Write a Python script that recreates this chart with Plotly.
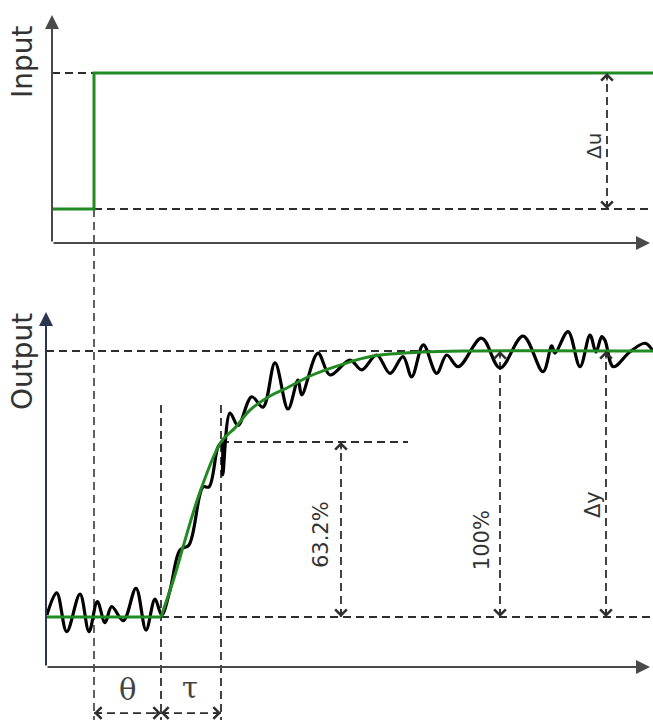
import plotly.graph_objects as go

# ---------------- data (time units, normalised signals) ----------------
# Input step: low level 0, high level 1, step at t_step
t_step = 2.0
theta = 3.35          # dead time
tau = 3.0             # time constant
ratio_632 = 0.658     # level of the 63.2 % mark as drawn

input_t = [-0.1, 2.0, 2.0, 29.95]
input_u = [0.0, 0.0, 1.0, 1.0]

# Model (green) output response
model_base_t = [-0.4, 5.35]
model_base_v = [0.0, 0.0]
model_rise_t = [5.35, 6.05, 6.45, 7.3, 8.35, 9.05, 9.8, 10.8, 11.65, 12.8,
                14.3, 15.95, 18.45, 20.8, 29.95]
model_rise_v = [0.0, 0.158, 0.263, 0.470, 0.658, 0.711, 0.778, 0.831, 0.861,
                0.906, 0.947, 0.981, 0.996, 1.0, 1.0]

# Measured (noisy, black) output
meas_t = [-0.35, 0.135, 0.635, 1.3, 1.75, 2.165, 2.55, 2.885, 3.465, 4.1,
          4.6, 5.05, 5.385, 5.8, 6.3, 6.75, 7.45, 7.75, 8.2, 8.385,
          8.435, 8.8, 9.2, 9.885, 10.45, 11.05, 11.7, 12.2, 12.385, 13.2,
          13.8, 14.8, 15.385, 16.135, 16.8, 17.45, 17.885, 18.465, 19.135, 19.635,
          20.215, 21.385, 22.3, 23.45, 24.45, 24.885, 25.05, 25.7, 26.3, 26.8,
          27.1, 27.385, 27.55, 27.965, 28.8, 29.55, 29.95]
meas_v = [0.008, 0.091, -0.055, 0.086, -0.055, 0.058, -0.021, 0.039, -0.014, 0.108,
          -0.049, 0.067, 0.008, 0.10, 0.252, 0.271, 0.489, 0.489, 0.639, 0.654,
          0.534, 0.767, 0.72, 0.828, 0.789, 0.955, 0.782, 0.891, 0.835, 0.992,
          0.910, 0.966, 0.929, 0.985, 0.916, 0.979, 0.903, 1.023, 0.916, 0.985,
          0.941, 1.048, 0.936, 1.056, 0.922, 1.019, 0.992, 1.073, 0.941, 1.060,
          0.996, 1.054, 1.04, 0.941, 0.997, 1.029, 1.0]

# annotation labels
label_input = "Input"
label_output = "Output"
label_du = "\u0394u"
label_dy = "\u0394y"
label_632 = "63.2%"
label_100 = "100%"
label_theta = "\u03b8"
label_tau = "\u03c4"

# ---------------- figure ----------------
W, H = 653, 722
X_RANGE = [-2.7, 29.95]
Y_IN_RANGE = [-3.772, 1.5368]
Y_OUT_RANGE = [-0.3947, 2.3195]

GREEN = "#228a22"
DASH_COL = "#2e2e2e"
AXIS_COL = "#4a4a4a"
DASH = "8px,5px"
SANS = "DejaVu Sans"

fig = go.Figure()

shapes = []

def dline(x0, y0, x1, y1, yref, width=2.0):
    shapes.append(dict(type="line", xref="x", yref=yref, x0=x0, y0=y0, x1=x1, y1=y1,
                       line=dict(color=DASH_COL, width=width, dash=DASH), layer="below"))

t_end = X_RANGE[1]
t_theta = t_step + theta
t_tau = t_theta + tau

# top (input) guides
dline(-0.1, 1, t_end, 1, "y")
dline(t_step, 0, t_end, 0, "y")
dline(t_step, 0, t_step, -3.757, "y", 1.5)
t_du = 27.65
dline(t_du, 0, t_du, 1, "y", 1.8)

# bottom (output) guides
dline(-0.4, 1, t_end, 1, "y2")
dline(t_theta, 0, t_end, 0, "y2")
dline(t_theta, 0.797, t_theta, -0.387, "y2", 1.8)
dline(t_tau, 0.797, t_tau, -0.387, "y2", 1.8)
dline(t_tau, ratio_632, 17.7, ratio_632, "y2")
t_632, t_100, t_dy = 14.35, 22.3, 27.6
dline(t_632, 0, t_632, ratio_632, "y2", 1.8)
dline(t_100, 0, t_100, 1, "y2", 1.8)
dline(t_dy, 0, t_dy, 1, "y2", 1.8)
v_dim = -0.361
dline(t_step, v_dim, t_theta, v_dim, "y2", 1.8)
dline(t_theta, v_dim, t_tau, v_dim, "y2", 1.8)

# traces
fig.add_trace(go.Scatter(x=input_t, y=input_u, mode="lines", yaxis="y",
                         line=dict(color=GREEN, width=3), hoverinfo="skip"))
fig.add_trace(go.Scatter(x=meas_t, y=meas_v, mode="lines", yaxis="y2",
                         line=dict(color="#000000", width=3.2, shape="spline", smoothing=1.0),
                         hoverinfo="skip"))
fig.add_trace(go.Scatter(x=model_base_t, y=model_base_v, mode="lines", yaxis="y2",
                         line=dict(color=GREEN, width=3), hoverinfo="skip"))
fig.add_trace(go.Scatter(x=model_rise_t, y=model_rise_v, mode="lines", yaxis="y2",
                         line=dict(color=GREEN, width=3, shape="spline", smoothing=1.0),
                         hoverinfo="skip"))

ann = []

def axis_arrow(x0, y0, x1, y1, yref, color=AXIS_COL):
    ann.append(dict(x=x1, y=y1, ax=x0, ay=y0, xref="x", yref=yref, axref="x", ayref=yref,
                    text="", showarrow=True, arrowhead=2, arrowsize=1.4, arrowwidth=2,
                    arrowcolor=color))

# axes with arrows
axis_arrow(-0.1, -0.25, -0.1, 1.426, "y")
axis_arrow(-0.1, -0.25, 29.8, -0.25, "y")
axis_arrow(-0.4, -0.188, -0.4, 1.147, "y2", "#2a3550")
axis_arrow(-0.4, -0.188, 29.8, -0.188, "y2")

def tip(x, y, yref, dx, dy):
    ann.append(dict(x=x, y=y, xref="x", yref=yref, ax=dx, ay=dy, text="", showarrow=True,
                    arrowhead=4, arrowsize=1.5, arrowwidth=1.5, arrowcolor=DASH_COL))

# dimension arrow heads
tip(t_du, 1, "y", 0, 9); tip(t_du, 0, "y", 0, -9)
tip(t_632, ratio_632, "y2", 0, 9); tip(t_632, 0, "y2", 0, -9)
tip(t_100, 1, "y2", 0, 9); tip(t_100, 0, "y2", 0, -9)
tip(t_dy, 1, "y2", 0, 9); tip(t_dy, 0, "y2", 0, -9)
tip(t_step, v_dim, "y2", 9, 0); tip(t_theta, v_dim, "y2", -9, 0)
tip(t_theta, v_dim, "y2", 9, 0); tip(t_tau, v_dim, "y2", -9, 0)

def label(x, y, yref, text, size, angle=-90, family=SANS, color="#333333", xref="x"):
    ann.append(dict(x=x, y=y, xref=xref, yref=yref, text=text, showarrow=False,
                    textangle=angle, font=dict(family=family, size=size, color=color),
                    xanchor="center", yanchor="middle"))

label(22 / W, (209 - 62) / 136, "y", label_input, 28, xref="paper")
label(22 / W, (617 - 362) / 266, "y2", label_output, 28, xref="paper")
label(27.0, 0.463, "y", label_du, 20)
label(13.35, 0.308, "y2", label_632, 21)
label(21.4, 0.289, "y2", label_100, 21)
label(26.95, 0.421, "y2", label_dy, 21)
label(3.65, -0.275, "y2", label_theta, 29, angle=0, family="DejaVu Serif", color="#444444")
label(6.8, -0.268, "y2", label_tau, 29, angle=0, family="DejaVu Serif", color="#444444")

hidden = dict(visible=False, showgrid=False, zeroline=False, fixedrange=True)
fig.update_layout(
    width=W, height=H,
    margin=dict(l=0, r=0, t=0, b=0),
    paper_bgcolor="white", plot_bgcolor="white",
    showlegend=False,
    xaxis=dict(range=X_RANGE, domain=[0, 1], **hidden),
    yaxis=dict(range=Y_IN_RANGE, domain=[0, 1], **hidden),
    yaxis2=dict(range=Y_OUT_RANGE, domain=[0, 1], overlaying="y", **hidden),
    shapes=shapes,
    annotations=ann,
)

fig.write_html("out.html")
